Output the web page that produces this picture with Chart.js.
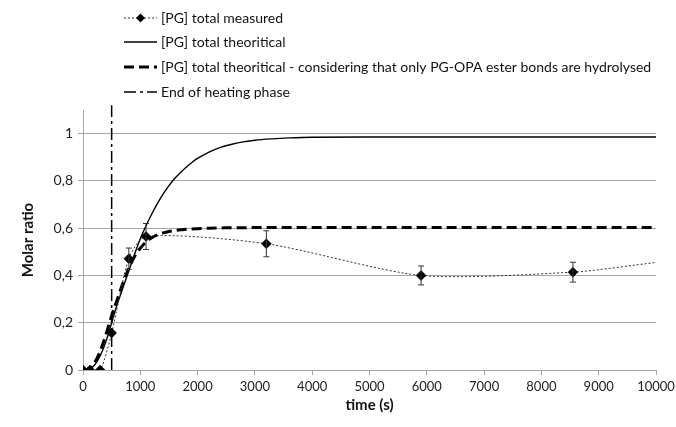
<!DOCTYPE html>
<html>
<head>
<meta charset="utf-8">
<script src="https://cdn.jsdelivr.net/npm/chart.js@4.4.1/dist/chart.umd.min.js"></script>
<style>
  html, body { margin: 0; padding: 0; background: #fff; }
  #wrap { width: 676px; height: 427px; }
</style>
</head>
<body>
<div id="wrap"><canvas id="pgChart" width="676" height="427"></canvas></div>
<script>
// Medidas de [PG] total (tempo em s, razão molar, desvio)
var measuredTime  = [0, 120, 300, 500, 800, 1100, 3200, 5900, 8550, 10000];
var measuredRatio = [0, 0, 0, 0.157, 0.471, 0.565, 0.534, 0.40, 0.414, 0.455];
var measuredError = [0, 0, 0, 0, 0.045, 0.055, 0.055, 0.04, 0.042, 0];

// Curvas teóricas
var theoTime  = [0, 100, 200, 300, 400, 500, 600, 700, 800, 900, 1000, 1100, 1200, 1300, 1400, 1500, 1600, 1700, 1800, 1900, 2000, 2200, 2400, 2600, 2800, 3000, 3300, 3600, 4000, 5000, 10000];
var theoTotal = [0, 0.003, 0.02, 0.06, 0.12, 0.2, 0.28, 0.35, 0.42, 0.49, 0.555, 0.61, 0.66, 0.705, 0.745, 0.78, 0.81, 0.835, 0.858, 0.878, 0.895, 0.922, 0.942, 0.955, 0.965, 0.972, 0.978, 0.982, 0.985, 0.986, 0.986];
var theoEster = [0, 0.005, 0.03, 0.08, 0.15, 0.23, 0.30, 0.37, 0.43, 0.48, 0.515, 0.542, 0.56, 0.572, 0.58, 0.586, 0.59, 0.593, 0.595, 0.597, 0.598, 0.6, 0.601, 0.602, 0.602, 0.603, 0.603, 0.603, 0.603, 0.603, 0.603];

// Fim da fase de aquecimento
var heatingEnd = [500, 500];
var heatingRatio = [0, 1.12];

var seriesLabels = [
  '[PG] total measured',
  '[PG] total theoritical',
  '[PG] total theoritical - considering that only PG-OPA ester bonds are hydrolysed',
  'End of heating phase'
];

function toPoints(xs, ys) {
  return xs.map(function (x, i) { return { x: x, y: ys[i] }; });
}

var GRID = '#a6a6a6';
var FONT = 'Lato, "Open Sans", sans-serif';

// Barras de erro dos pontos medidos
var errorBars = {
  id: 'errorBars',
  afterDatasetDraw: function (chart, args) {
    if (args.index !== 0) return;
    var ctx = chart.ctx, yScale = chart.scales.y;
    var meta = chart.getDatasetMeta(0);
    ctx.save();
    ctx.strokeStyle = '#333';
    ctx.lineWidth = 1;
    meta.data.forEach(function (pt, i) {
      var e = measuredError[i];
      if (!e) return;
      var top = yScale.getPixelForValue(measuredRatio[i] + e);
      var bot = yScale.getPixelForValue(measuredRatio[i] - e);
      ctx.beginPath();
      ctx.moveTo(pt.x, top); ctx.lineTo(pt.x, bot);
      ctx.moveTo(pt.x - 3, top); ctx.lineTo(pt.x + 3, top);
      ctx.moveTo(pt.x - 3, bot); ctx.lineTo(pt.x + 3, bot);
      ctx.stroke();
    });
    ctx.restore();
  }
};

// Legenda em lista, uma série por linha
var listLegend = {
  id: 'listLegend',
  afterDraw: function (chart) {
    var ctx = chart.ctx;
    var rows = [18, 42, 67, 92];
    var x0 = 124, x1 = 157, tx = 161;
    ctx.save();
    chart.data.datasets.forEach(function (ds, i) {
      var y = rows[i];
      ctx.strokeStyle = ds.borderColor;
      ctx.lineWidth = ds.borderWidth;
      ctx.setLineDash(ds.borderDash || []);
      ctx.beginPath();
      ctx.moveTo(x0, y); ctx.lineTo(x1, y);
      ctx.stroke();
      ctx.setLineDash([]);
      if (i === 0) {
        var cx = (x0 + x1) / 2;
        ctx.fillStyle = '#000';
        ctx.beginPath();
        ctx.moveTo(cx - 4.5, y); ctx.lineTo(cx, y - 4.5);
        ctx.lineTo(cx + 4.5, y); ctx.lineTo(cx, y + 4.5);
        ctx.closePath();
        ctx.fill();
      }
      ctx.fillStyle = '#111';
      ctx.font = '14px ' + FONT;
      ctx.textBaseline = 'middle';
      ctx.fillText(seriesLabels[i], tx, y);
    });
    ctx.restore();
  }
};

var ctx = document.getElementById('pgChart').getContext('2d');
var pgChart = new Chart(ctx, {
  type: 'line',
  data: {
    datasets: [
      {
        label: seriesLabels[0],
        data: toPoints(measuredTime, measuredRatio),
        borderColor: '#333',
        borderWidth: 1,
        borderDash: [2, 2],
        pointStyle: 'rectRot',
        pointRadius: measuredTime.map(function (t, i) { return i === measuredTime.length - 1 ? 0 : 5; }),
        pointBackgroundColor: '#000',
        pointBorderColor: '#000',
        pointBorderWidth: 0.5,
        tension: 0.25,
        order: 0
      },
      {
        label: seriesLabels[1],
        data: toPoints(theoTime, theoTotal),
        borderColor: '#000',
        borderWidth: 1.4,
        pointRadius: 0,
        cubicInterpolationMode: 'monotone',
        order: 2
      },
      {
        label: seriesLabels[2],
        data: toPoints(theoTime, theoEster),
        borderColor: '#000',
        borderWidth: 3,
        borderDash: [10, 5],
        pointRadius: 0,
        cubicInterpolationMode: 'monotone',
        order: 1
      },
      {
        label: seriesLabels[3],
        data: toPoints(heatingEnd, heatingRatio),
        borderColor: '#000',
        borderWidth: 1.5,
        borderDash: [12, 4, 3, 4],
        pointRadius: 0,
        clip: false,
        order: 3
      }
    ]
  },
  options: {
    responsive: false,
    animation: false,
    layout: { padding: { top: 110, right: 20, left: 0, bottom: 0 } },
    plugins: {
      legend: { display: false },
      tooltip: { enabled: false }
    },
    scales: {
      x: {
        type: 'linear',
        min: 0,
        max: 10000,
        ticks: {
          stepSize: 1000,
          padding: 4,
          color: '#222',
          font: { family: FONT, size: 13 },
          maxRotation: 0,
          callback: function (v) { return String(v); }
        },
        grid: { drawOnChartArea: false, drawTicks: true, tickLength: 5, color: GRID },
        border: { color: GRID },
        title: {
          display: true,
          text: 'time (s)',
          color: '#111',
          font: { family: FONT, size: 15, weight: 'bold' },
          padding: { top: 0, bottom: 13 }
        },
        afterFit: function (scale) {
          scale.height = 57;
          scale.paddingLeft = 0;
          scale.paddingRight = 0;
        }
      },
      y: {
        min: 0,
        max: 1.1,
        ticks: {
          stepSize: 0.2,
          padding: 5,
          color: '#222',
          font: { family: FONT, size: 14 },
          callback: function (v) { return String(Math.round(v * 10) / 10).replace('.', ','); }
        },
        afterBuildTicks: function (scale) {
          scale.ticks = scale.ticks.filter(function (t) { return t.value <= 1.0001; });
        },
        grid: { color: GRID, drawTicks: true, tickLength: 5 },
        border: { color: GRID },
        title: {
          display: true,
          text: 'Molar ratio',
          color: '#111',
          font: { family: FONT, size: 15, weight: 'bold' },
          padding: { top: 19, bottom: 0 }
        },
        afterFit: function (scale) { scale.width = 83; }
      }
    }
  },
  plugins: [errorBars, listLegend]
});
</script>
</body>
</html>
